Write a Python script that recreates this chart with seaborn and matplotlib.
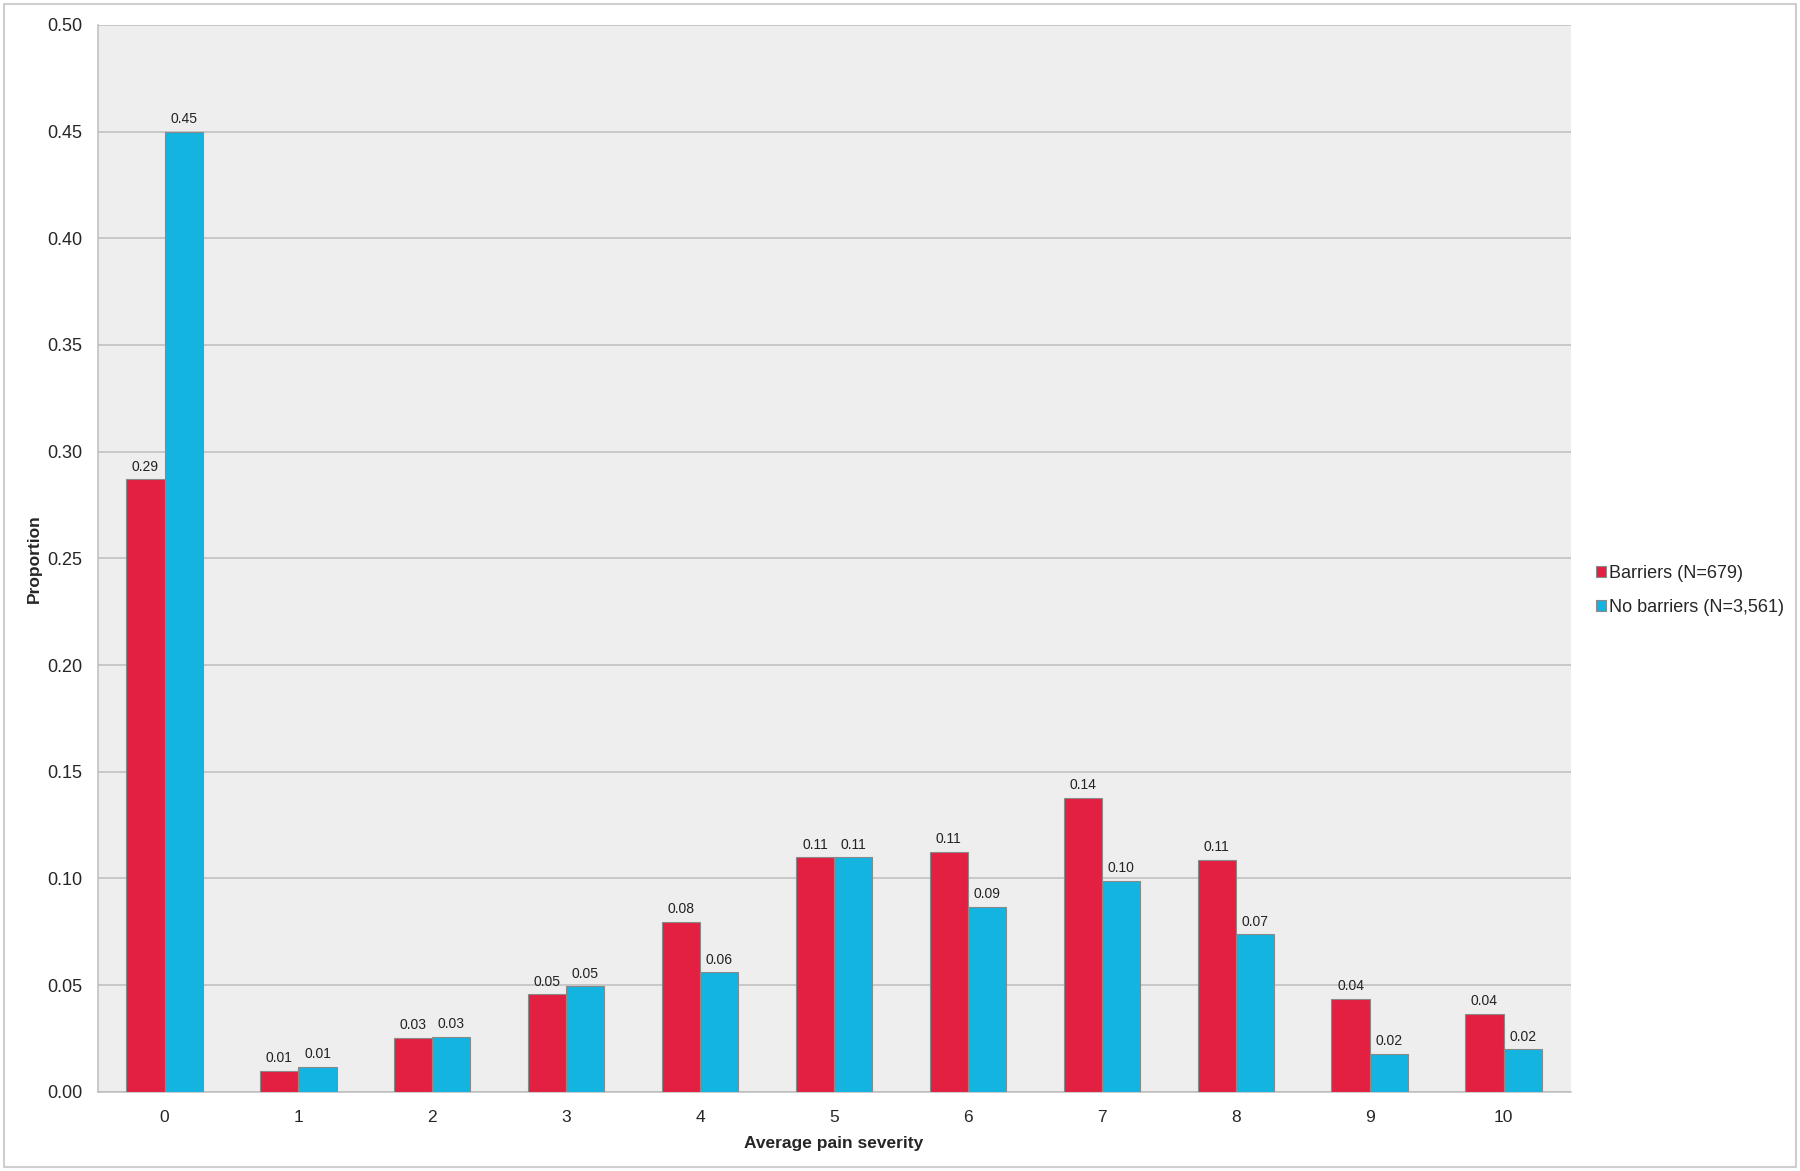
import pandas as pd
import numpy as np
import matplotlib
matplotlib.use('Agg')
import matplotlib.pyplot as plt
import seaborn as sns
from matplotlib.patches import Rectangle

# values
severity = ['0', '1', '2', '3', '4', '5', '6', '7', '8', '9', '10']
barriers = [0.287, 0.0097, 0.0252, 0.0457, 0.0797, 0.1098, 0.1125, 0.1378, 0.1087, 0.0436, 0.0366]
no_barriers = [0.450, 0.0118, 0.0258, 0.0495, 0.0560, 0.1098, 0.0867, 0.0990, 0.0737, 0.0178, 0.0199]
series_names = ['Barriers (N=679)', 'No barriers (N=3,561)']
colors = ['#E32041', '#13B4E0']

df = pd.DataFrame({
    'severity': severity * 2,
    'proportion': barriers + no_barriers,
    'group': [series_names[0]] * len(severity) + [series_names[1]] * len(severity),
})

sns.set_style('white')
plt.rcParams['font.family'] = ['Liberation Sans', 'DejaVu Sans']

fig = plt.figure(figsize=(18, 11.71), dpi=100)
ax = fig.add_axes([0.0542, 0.0677, 0.8183, 0.911])
ax.set_facecolor('#EEEEEE')

sns.barplot(data=df, x='severity', y='proportion', hue='group', order=severity,
            hue_order=series_names, palette=colors, width=0.57, saturation=1,
            edgecolor='#8A8A8A', linewidth=0.8, ax=ax, zorder=3)

for cont in ax.containers:
    ax.bar_label(cont, fmt='%.2f', padding=4, fontsize=10, color='#222222')

ax.set_ylim(0, 0.5)
ax.set_yticks(np.arange(0, 0.501, 0.05))
ax.set_yticklabels(['%.2f' % v for v in np.arange(0, 0.501, 0.05)], fontsize=13)
ax.yaxis.grid(True, color='#BDBDBD', linewidth=1.1, zorder=0)
ax.set_axisbelow(True)
ax.set_xlim(-0.5, len(severity) - 0.5)

# x tick marks sit between the categories
ax.set_xticks(range(len(severity)))
ax.set_xticklabels(severity, fontsize=12.5)
ax.set_xticks(np.arange(-0.5, len(severity), 1), minor=True)
ax.tick_params(axis='x', which='major', length=0, pad=13)
ax.tick_params(axis='x', which='minor', length=8, color='#BDBDBD', width=1)
ax.tick_params(axis='y', length=6, color='#BDBDBD', width=1, pad=5)

for s in ['top', 'right']:
    ax.spines[s].set_visible(False)
for s in ['left', 'bottom']:
    ax.spines[s].set_color('#BDBDBD')
    ax.spines[s].set_linewidth(1.1)

ax.set_xlabel('Average pain severity', fontsize=12.5, fontweight='bold', labelpad=8)
ax.set_ylabel('Proportion', fontsize=12.5, fontweight='bold', labelpad=4)

ax.legend(loc='center left', bbox_to_anchor=(1.006, 0.47), frameon=False, fontsize=13,
          handlelength=0.6, handleheight=0.6, handletextpad=0.15, labelspacing=0.95)

fig.patches.append(Rectangle((0.002, 0.003), 0.996, 0.994, transform=fig.transFigure,
                             fill=False, edgecolor='#CFCFCF', linewidth=1.5))

fig.savefig('out.png', dpi=100, facecolor='white')
